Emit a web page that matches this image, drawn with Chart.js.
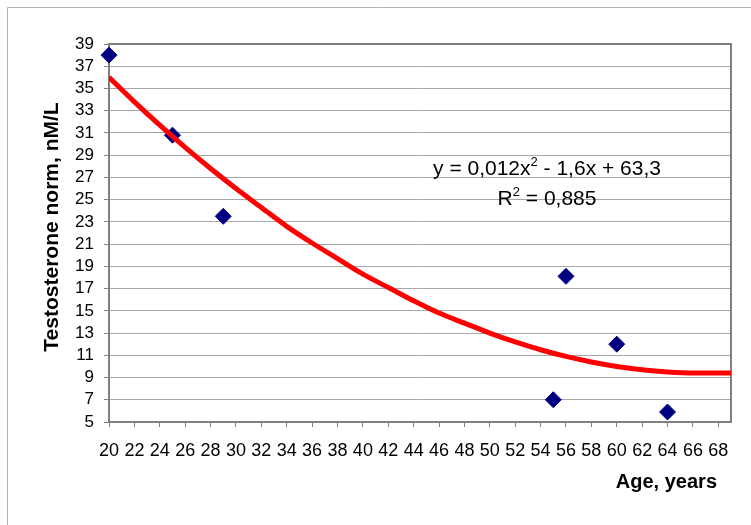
<!DOCTYPE html>
<html>
<head>
<meta charset="utf-8">
<script src="https://cdn.jsdelivr.net/npm/chart.js@4/dist/chart.umd.min.js"></script>
<style>
html,body{margin:0;padding:0;background:#fff;}
#wrap{width:751px;height:525px;position:relative;}
</style>
</head>
<body>
<div id="wrap"><canvas id="c" width="751" height="525"></canvas></div>
<script>
// Observed data points
const ages = [20, 25, 29, 55, 56, 60, 64];
const testosterone = [38, 30.8, 23.5, 7, 18.1, 12, 5.9];

// Polynomial trend line
const trendAges = [20,22,24,26,28,30,32,34,36,38,40,42,44,46,48,50,52,54,56,58,60,62,64,66,68,69];
const trendValues = [36.0,33.8,31.7,29.7,27.8,26.0,24.3,22.6,21.1,19.7,18.3,17.1,15.9,14.8,13.9,13.0,12.2,11.5,10.9,10.4,10.0,9.7,9.5,9.4,9.4,9.4];

// Axis ranges / ticks
const xRange = [20, 69];
const xStep = 2;
const yRange = [5, 39];
const yStep = 2;

// Texts
const yTitle = 'Testosterone norm, nM/L';
const xTitle = 'Age, years';
const eqParts = ['y = 0,012x', '2', ' - 1,6x + 63,3'];
const r2Parts = ['R', '2', ' = 0,885'];

const FONT = '"Liberation Sans", Arial, sans-serif';

function drawSup(ctx, parts, cx, baseline, size) {
  const supSize = Math.round(size * 0.62);
  ctx.font = size + 'px ' + FONT;
  const w0 = ctx.measureText(parts[0]).width;
  const w2 = ctx.measureText(parts[2]).width;
  ctx.font = supSize + 'px ' + FONT;
  const w1 = ctx.measureText(parts[1]).width;
  let x = cx - (w0 + w1 + w2) / 2;
  ctx.textAlign = 'left';
  ctx.textBaseline = 'alphabetic';
  ctx.font = size + 'px ' + FONT;
  ctx.fillText(parts[0], x, baseline);
  x += w0;
  ctx.font = supSize + 'px ' + FONT;
  ctx.fillText(parts[1], x, baseline - size * 0.45);
  x += w1;
  ctx.font = size + 'px ' + FONT;
  ctx.fillText(parts[2], x, baseline);
}

const overlay = {
  id: 'overlay',
  beforeDraw(chart) {
    const ctx = chart.ctx;
    ctx.save();
    ctx.strokeStyle = '#b4b4b4';
    ctx.lineWidth = 1;
    ctx.beginPath();
    ctx.moveTo(7.5, 525);
    ctx.lineTo(7.5, 7.5);
    ctx.lineTo(751, 7.5);
    ctx.stroke();
    ctx.restore();
  },
  beforeDatasetsDraw(chart) {
    const {ctx, chartArea: a} = chart;
    ctx.save();
    ctx.strokeStyle = '#808080';
    ctx.lineWidth = 2;
    ctx.beginPath();
    ctx.moveTo(a.left, a.top);
    ctx.lineTo(a.right, a.top);
    ctx.lineTo(a.right, a.bottom);
    ctx.stroke();
    ctx.restore();
  },
  afterDraw(chart) {
    const ctx = chart.ctx;
    ctx.save();
    ctx.fillStyle = '#000';
    // y axis title
    ctx.translate(52, 227);
    ctx.rotate(-Math.PI / 2);
    ctx.font = 'bold 21px ' + FONT;
    ctx.textAlign = 'center';
    ctx.textBaseline = 'middle';
    ctx.fillText(yTitle, 0, 0);
    ctx.restore();
    ctx.save();
    ctx.fillStyle = '#000';
    ctx.font = 'bold 20px ' + FONT;
    ctx.textAlign = 'right';
    ctx.textBaseline = 'alphabetic';
    ctx.fillText(xTitle, 717, 488);
    drawSup(ctx, eqParts, 547, 175, 21);
    drawSup(ctx, r2Parts, 547, 205, 21);
    ctx.restore();
  }
};

new Chart(document.getElementById('c'), {
  type: 'scatter',
  data: {
    datasets: [
      {
        label: 'Trend',
        data: trendAges.map((x, i) => ({x: x, y: trendValues[i]})),
        showLine: true,
        borderColor: '#ff0000',
        borderWidth: 5,
        pointRadius: 0,
        pointHoverRadius: 0,
        fill: false,
        cubicInterpolationMode: 'monotone',
        order: 0
      },
      {
        label: 'Testosterone',
        data: ages.map((x, i) => ({x: x, y: testosterone[i]})),
        pointStyle: 'rectRot',
        pointRadius: 8,
        pointBackgroundColor: '#000080',
        pointBorderColor: '#000080',
        pointBorderWidth: 1,
        showLine: false,
        clip: false,
        order: 1
      }
    ]
  },
  options: {
    responsive: false,
    animation: false,
    layout: {padding: {top: 44, right: 20, left: 0, bottom: 0}},
    plugins: {
      legend: {display: false},
      tooltip: {enabled: false},
      title: {display: false}
    },
    scales: {
      x: {
        type: 'linear',
        min: xRange[0],
        max: xRange[1],
        afterFit(s) { s.height = 103; },
        border: {display: true, color: '#808080', width: 2},
        grid: {display: true, drawOnChartArea: false, drawTicks: true, tickLength: 5, tickColor: '#808080', tickWidth: 1},
        ticks: {
          stepSize: xStep,
          includeBounds: false,
          autoSkip: false,
          maxRotation: 0,
          minRotation: 0,
          padding: 13,
          color: '#000',
          font: {family: FONT, size: 18}
        }
      },
      y: {
        type: 'linear',
        min: yRange[0],
        max: yRange[1],
        afterFit(s) { s.width = 109; },
        border: {display: true, color: '#808080', width: 2},
        grid: {color: '#a6a6a6', lineWidth: 1, drawTicks: true, tickLength: 5, tickColor: '#808080'},
        ticks: {
          stepSize: yStep,
          autoSkip: false,
          padding: 10,
          color: '#000',
          font: {family: FONT, size: 17}
        }
      }
    }
  },
  plugins: [overlay]
});
</script>
</body>
</html>
